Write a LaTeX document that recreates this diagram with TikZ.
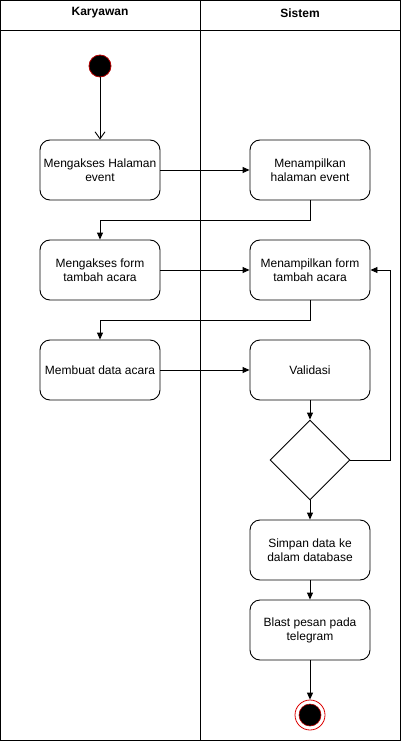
\documentclass[tikz,border=0pt]{standalone}
\usepackage{fontspec}
\setmainfont{Liberation Sans}
\usetikzlibrary{arrows.meta,shapes.geometric}
\begin{document}
\begin{tikzpicture}[x=1pt,y=-1pt,
  act/.style={draw,rounded corners=10pt,minimum width=120pt,minimum height=60pt,align=center,font=\fontsize{12}{14}\selectfont,inner sep=2pt,line width=0.9pt},
  dec/.style={draw,diamond,minimum width=80pt,minimum height=80pt,inner sep=0pt,line width=0.9pt},
  flow/.style={-{Triangle[length=7pt,width=6pt]},line width=0.9pt},
  hdr/.style={font=\bfseries\fontsize{12}{14}\selectfont}]
\useasboundingbox (0,0) rectangle (401,741);
\draw[line width=0.9pt] (0.5,0.5) rectangle (400.5,740.5);
\draw[line width=0.9pt] (0.5,30) -- (400.5,30);
\draw[line width=0.9pt] (200.5,0.5) -- (200.5,740.5);
\node[hdr] (h1) at (100,13) {Karyawan};
\node[hdr] (h2) at (300,13) {Sistem};
\node[circle,fill=black,draw={rgb,255:red,180;green,0;blue,0},line width=0.8pt,minimum size=22pt,inner sep=0pt] (start) at (100,66) {};
\node[act] (a1) at (100,170) {Mengakses Halaman\\event};
\node[act] (a2) at (100,270) {Mengakses form\\tambah acara};
\node[act] (a3) at (100,370) {Membuat data acara};
\node[act] (b1) at (310,170) {Menampilkan\\halaman event};
\node[act] (b2) at (310,270) {Menampilkan form\\tambah acara};
\node[act] (b3) at (310,370) {Validasi};
\node[dec] (d) at (310,460) {};
\node[act] (b4) at (310,550) {Simpan data ke\\dalam database};
\node[act] (b5) at (310,630) {Blast pesan pada\\telegram};
\node[circle,draw={rgb,255:red,220;green,0;blue,0},line width=0.8pt,minimum size=30pt,inner sep=0pt] (endo) at (310,715) {};
\node[circle,fill=black,draw={rgb,255:red,180;green,0;blue,0},line width=0.6pt,minimum size=22pt,inner sep=0pt] (endi) at (310,715) {};
\draw[-{Straight Barb[length=7pt,width=10pt]},line width=0.9pt] (start) -- (a1);
\draw[flow] (a1) -- (b1);
\draw[flow] (b1.south) -- ++(0,20) -| (a2.north);
\draw[flow] (a2) -- (b2);
\draw[flow] (b2.south) -- ++(0,20) -| (a3.north);
\draw[flow] (a3) -- (b3);
\draw[flow] (b3) -- (d);
\draw[flow] (d.east) -- ++(40,0) |- (b2.east);
\draw[flow] (d) -- (b4);
\draw[flow] (b4) -- (b5);
\draw[flow] (b5) -- (endo);
\end{tikzpicture}
\end{document}
